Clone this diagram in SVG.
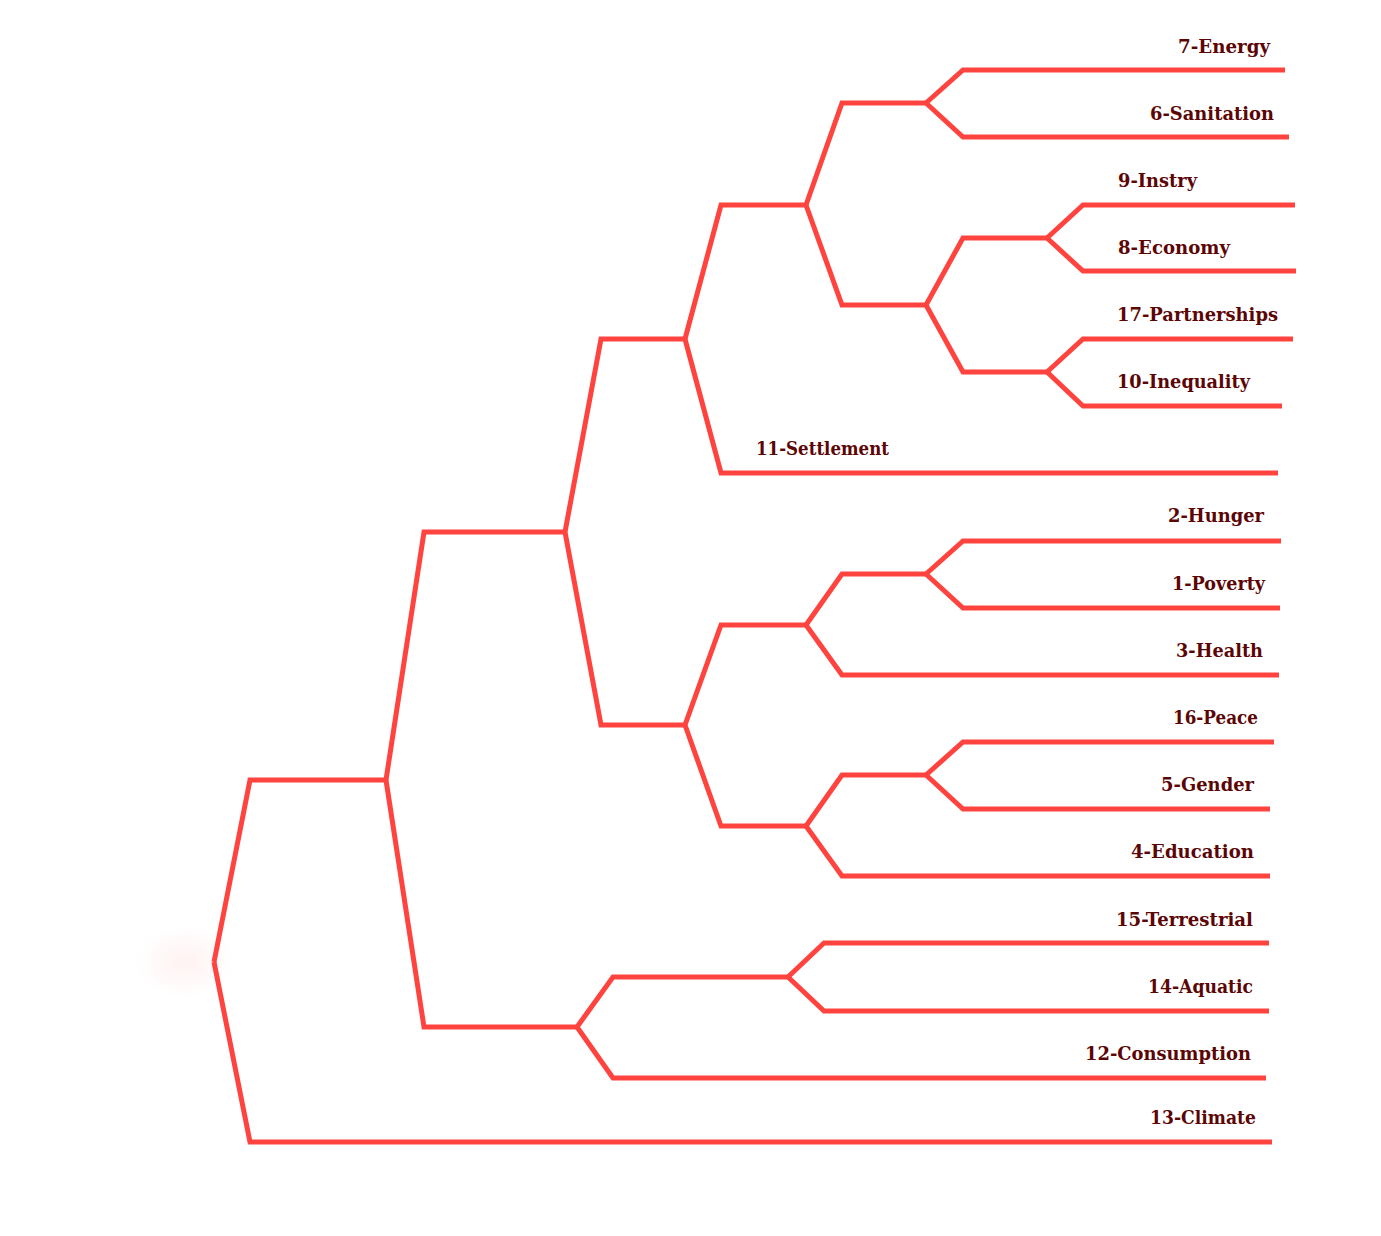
<svg xmlns="http://www.w3.org/2000/svg" width="1381" height="1236" viewBox="0 0 1381 1236">
<style>
.e{fill:none;stroke:#ff443f;stroke-width:5;stroke-linejoin:miter;stroke-linecap:butt}
.t{font-family:"DejaVu Serif",serif;font-weight:bold;font-size:19px;fill:#5c0505}
</style>
<defs>
<radialGradient id="glow" cx="0.5" cy="0.5" r="0.5">
<stop offset="0" stop-color="#ff4444" stop-opacity="0.07"/>
<stop offset="1" stop-color="#ff4444" stop-opacity="0"/>
</radialGradient>
</defs>
<rect width="1381" height="1236" fill="#fff"/>
<ellipse cx="185" cy="962" rx="50" ry="36" fill="url(#glow)"/>
<g id="connectors">
<path class="e" d="M214,962 L250,780 L386,780"/>
<path class="e" d="M214,962 L250,1142 L1272,1142"/>
<path class="e" d="M386,780 L424,532 L565,532"/>
<path class="e" d="M386,780 L424,1027 L577,1027"/>
<path class="e" d="M565,532 L601,339 L685,339"/>
<path class="e" d="M565,532 L601,725 L685,725"/>
<path class="e" d="M685,339 L721,205 L806,205"/>
<path class="e" d="M685,339 L721,473 L1278,473"/>
<path class="e" d="M806,205 L842,103 L926,103"/>
<path class="e" d="M806,205 L842,305 L926,305"/>
<path class="e" d="M926,103 L963,70 L1285,70"/>
<path class="e" d="M926,103 L963,137 L1289,137"/>
<path class="e" d="M926,305 L963,238 L1047,238"/>
<path class="e" d="M926,305 L963,372 L1047,372"/>
<path class="e" d="M1047,238 L1083,205 L1295,205"/>
<path class="e" d="M1047,238 L1083,271 L1296,271"/>
<path class="e" d="M1047,372 L1083,339 L1293,339"/>
<path class="e" d="M1047,372 L1083,406 L1282,406"/>
<path class="e" d="M685,725 L721,625 L806,625"/>
<path class="e" d="M685,725 L721,826 L806,826"/>
<path class="e" d="M806,625 L842,574 L926,574"/>
<path class="e" d="M806,625 L842,675 L1279,675"/>
<path class="e" d="M926,574 L963,541 L1281,541"/>
<path class="e" d="M926,574 L963,608 L1280,608"/>
<path class="e" d="M806,826 L842,775 L926,775"/>
<path class="e" d="M806,826 L842,876 L1270,876"/>
<path class="e" d="M926,775 L963,742 L1274,742"/>
<path class="e" d="M926,775 L963,809 L1270,809"/>
<path class="e" d="M577,1027 L613,977 L788,977"/>
<path class="e" d="M577,1027 L613,1078 L1266,1078"/>
<path class="e" d="M788,977 L824,943 L1269,943"/>
<path class="e" d="M788,977 L824,1011 L1269,1011"/>
</g>
<g id="n7"><text class="t" x="1178" y="53" textLength="92" lengthAdjust="spacingAndGlyphs">7-Energy</text></g>
<g id="n6"><text class="t" x="1150" y="120" textLength="124" lengthAdjust="spacingAndGlyphs">6-Sanitation</text></g>
<g id="n9"><text class="t" x="1118" y="187" textLength="79" lengthAdjust="spacingAndGlyphs">9-Instry</text></g>
<g id="n8"><text class="t" x="1118" y="254" textLength="112" lengthAdjust="spacingAndGlyphs">8-Economy</text></g>
<g id="n17"><text class="t" x="1117" y="321" textLength="161" lengthAdjust="spacingAndGlyphs">17-Partnerships</text></g>
<g id="n10"><text class="t" x="1117" y="388" textLength="133" lengthAdjust="spacingAndGlyphs">10-Inequality</text></g>
<g id="n11"><text class="t" x="756" y="455" textLength="133" lengthAdjust="spacingAndGlyphs">11-Settlement</text></g>
<g id="n2"><text class="t" x="1168" y="522" textLength="96" lengthAdjust="spacingAndGlyphs">2-Hunger</text></g>
<g id="n1"><text class="t" x="1172" y="590" textLength="93" lengthAdjust="spacingAndGlyphs">1-Poverty</text></g>
<g id="n3"><text class="t" x="1176" y="657" textLength="87" lengthAdjust="spacingAndGlyphs">3-Health</text></g>
<g id="n16"><text class="t" x="1173" y="724" textLength="85" lengthAdjust="spacingAndGlyphs">16-Peace</text></g>
<g id="n5"><text class="t" x="1161" y="791" textLength="93" lengthAdjust="spacingAndGlyphs">5-Gender</text></g>
<g id="n4"><text class="t" x="1131" y="858" textLength="123" lengthAdjust="spacingAndGlyphs">4-Education</text></g>
<g id="n15"><text class="t" x="1116" y="926" textLength="137" lengthAdjust="spacingAndGlyphs">15-Terrestrial</text></g>
<g id="n14"><text class="t" x="1148" y="993" textLength="105" lengthAdjust="spacingAndGlyphs">14-Aquatic</text></g>
<g id="n12"><text class="t" x="1085" y="1060" textLength="166" lengthAdjust="spacingAndGlyphs">12-Consumption</text></g>
<g id="n13"><text class="t" x="1150" y="1124" textLength="106" lengthAdjust="spacingAndGlyphs">13-Climate</text></g>
</svg>
